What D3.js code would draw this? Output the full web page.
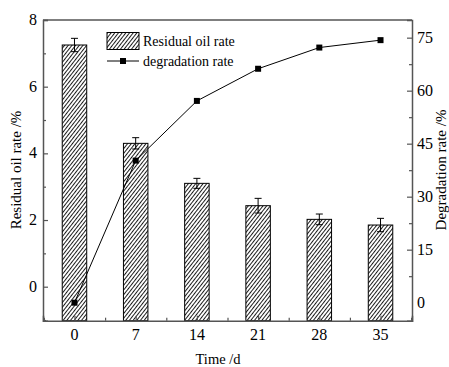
<!DOCTYPE html>
<html>
<head>
<meta charset="utf-8">
<script src="https://cdn.jsdelivr.net/npm/d3@7"></script>
<style>
  body { margin: 0; background: #fff; }
  svg text { font-family: "Liberation Serif", "Times New Roman", serif !important; fill: #000; }
</style>
</head>
<body>
<script>
// data
var days = [0, 7, 14, 21, 28, 35];
var residual = [7.25, 4.30, 3.10, 2.43, 2.02, 1.85];
var residualErr = [0.20, 0.17, 0.15, 0.22, 0.16, 0.20];
var degradation = [0, 40.2, 57.1, 66.2, 72.2, 74.3];
var leftTicks = [0, 2, 4, 6, 8];
var rightTicks = [0, 15, 30, 45, 60, 75];

var w = 449, h = 367;
var L = 43, R = 412, T = 20, B = 320.7;
var AXIS = '#555';
var FONT = '"Liberation Serif", "Times New Roman", serif';

var svg = d3.select('body').append('svg').attr('width', w).attr('height', h);

var x = d3.scaleLinear().domain([-3.6, 38.6]).range([L, R]);
var yL = d3.scaleLinear().domain([-1.02, 8]).range([B, T]);
var yR = d3.scaleLinear().domain([-5.1, 80]).range([B, T]);

// hatch pattern
var pat = svg.append('defs').append('pattern')
  .attr('id', 'hatch').attr('patternUnits', 'userSpaceOnUse')
  .attr('width', 2.9).attr('height', 4)
  .attr('patternTransform', 'rotate(38)');
pat.append('rect').attr('width', 2.9).attr('height', 4).attr('fill', '#fff');
pat.append('line').attr('x1', 0.5).attr('y1', 0).attr('x2', 0.5).attr('y2', 4)
  .attr('stroke', '#000').attr('stroke-width', 0.9);

var barW = x(2.8) - x(0);

// bars
svg.selectAll('.bar').data(days).enter().append('rect')
  .attr('class', 'bar')
  .attr('x', function(d) { return x(d) - barW / 2; })
  .attr('y', function(d, i) { return yL(residual[i]); })
  .attr('width', barW)
  .attr('height', function(d, i) { return B - yL(residual[i]); })
  .attr('fill', 'url(#hatch)')
  .attr('stroke', '#000').attr('stroke-width', 1);

// error bars
var eb = svg.selectAll('.err').data(days).enter().append('g').attr('class', 'err')
  .attr('stroke', '#000').attr('stroke-width', 1);
eb.append('line')
  .attr('x1', function(d) { return x(d); }).attr('x2', function(d) { return x(d); })
  .attr('y1', function(d, i) { return yL(residual[i] - residualErr[i]); })
  .attr('y2', function(d, i) { return yL(residual[i] + residualErr[i]); });
[1, -1].forEach(function(s) {
  eb.append('line')
    .attr('x1', function(d) { return x(d) - 3.5; }).attr('x2', function(d) { return x(d) + 3.5; })
    .attr('y1', function(d, i) { return yL(residual[i] + s * residualErr[i]); })
    .attr('y2', function(d, i) { return yL(residual[i] + s * residualErr[i]); });
});

// degradation line
var line = d3.line().x(function(d) { return x(d); }).y(function(d, i) { return yR(degradation[i]); });
svg.append('path').datum(days).attr('d', line)
  .attr('fill', 'none').attr('stroke', '#000').attr('stroke-width', 1);
svg.selectAll('.pt').data(days).enter().append('rect')
  .attr('x', function(d) { return x(d) - 3; })
  .attr('y', function(d, i) { return yR(degradation[i]) - 3; })
  .attr('width', 6).attr('height', 6).attr('fill', '#000');

// frame
svg.append('line').attr('x1', L).attr('x2', R).attr('y1', T).attr('y2', T).attr('stroke', AXIS).attr('stroke-width', 1.5);

// axes with inward ticks
var axL = svg.append('g').attr('transform', 'translate(' + L + ',0)')
  .call(d3.axisLeft(yL).tickValues(d3.range(-1, 8.5, 1)).tickSize(-5).tickFormat(''));
axL.selectAll('.tick line').attr('x2', function(d) { return d % 2 === 0 ? 5 : 3; });
var axR = svg.append('g').attr('transform', 'translate(' + R + ',0)')
  .call(d3.axisRight(yR).tickValues(d3.range(-7.5 + 15, 80, 7.5)).tickSize(-5).tickFormat(''));
axR.selectAll('.tick line').attr('x2', function(d) { return d % 15 === 0 ? -5 : -3; });
var axB = svg.append('g').attr('transform', 'translate(0,' + B + ')')
  .call(d3.axisBottom(x).tickValues(d3.range(-3.5, 38.6, 3.5)).tickSize(-5).tickFormat(''));
axB.selectAll('.tick line').attr('y2', function(d) { return Math.round(d) === d && d % 7 === 0 ? -5 : -3; });
[axL, axR, axB].forEach(function(a) {
  a.select('.domain').attr('stroke', AXIS).attr('stroke-width', 1.5);
  a.selectAll('.tick line').attr('stroke', AXIS).attr('stroke-width', 1.2);
});

// tick labels
svg.selectAll('.tl').data(leftTicks).enter().append('text')
  .attr('x', 37).attr('y', function(d) { return yL(d) + 5; })
  .attr('text-anchor', 'end').attr('font-size', 16).attr('font-family', FONT).text(function(d) { return d; });
svg.selectAll('.tr').data(rightTicks).enter().append('text')
  .attr('x', 417).attr('y', function(d) { return yR(d) + 5; })
  .attr('font-size', 16).attr('font-family', FONT).text(function(d) { return d; });
svg.selectAll('.tb').data(days).enter().append('text')
  .attr('x', function(d) { return x(d); }).attr('y', 340)
  .attr('text-anchor', 'middle').attr('font-size', 16).attr('font-family', FONT).text(function(d) { return d; });

// axis titles
svg.append('text').attr('transform', 'translate(21,170) rotate(-90)')
  .attr('text-anchor', 'middle').attr('font-size', 15).attr('font-family', FONT).text('Residual oil rate /%');
svg.append('text').attr('transform', 'translate(446,170) rotate(-90)')
  .attr('text-anchor', 'middle').attr('font-size', 15).attr('font-family', FONT).text('Degradation rate /%');
svg.append('text').attr('x', 218).attr('y', 364)
  .attr('text-anchor', 'middle').attr('font-size', 14.5).attr('font-family', FONT).text('Time /d');

// legend
svg.append('rect').attr('x', 107).attr('y', 32.5).attr('width', 32).attr('height', 17)
  .attr('fill', 'url(#hatch)').attr('stroke', '#000');
svg.append('text').attr('x', 143).attr('y', 46).attr('font-size', 14).attr('font-family', FONT).text('Residual oil rate');
svg.append('line').attr('x1', 107).attr('x2', 139).attr('y1', 61).attr('y2', 61).attr('stroke', '#000');
svg.append('rect').attr('x', 120).attr('y', 58).attr('width', 6).attr('height', 6).attr('fill', '#000');
svg.append('text').attr('x', 143).attr('y', 66).attr('font-size', 14).attr('font-family', FONT).text('degradation rate');
</script>
</body>
</html>
